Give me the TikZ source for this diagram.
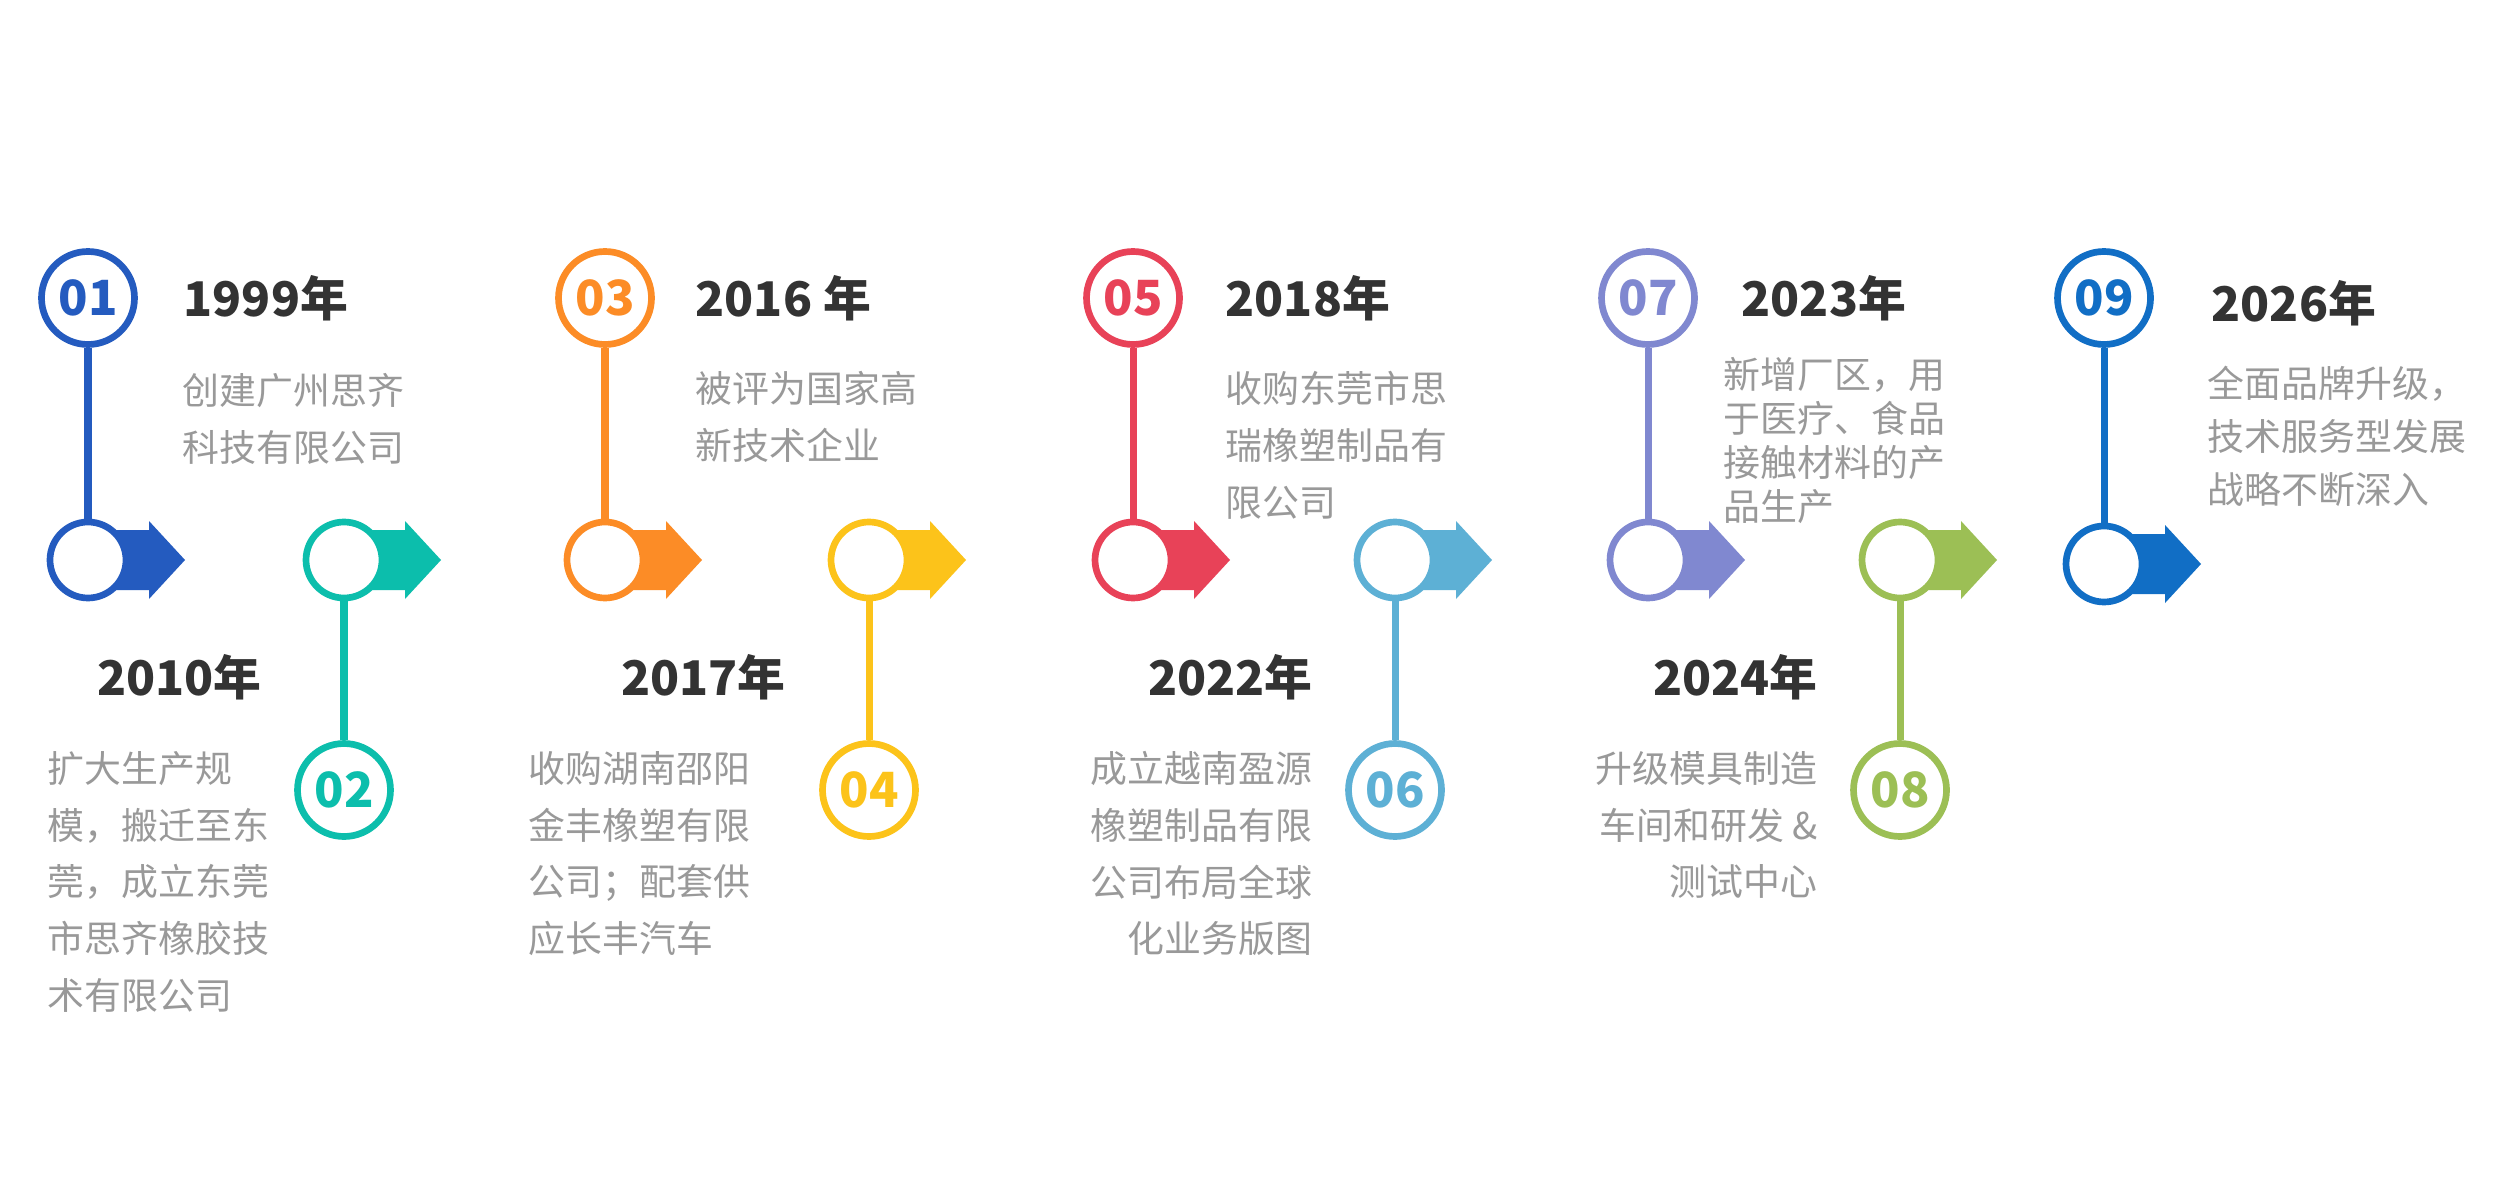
\documentclass[tikz,border=0pt]{standalone}
\usepackage{fontspec}
\setmainfont{Noto Sans CJK SC}
\definecolor{c1}{HTML}{245BBF}
\definecolor{c2}{HTML}{0CBEAC}
\definecolor{c3}{HTML}{FC8C26}
\definecolor{c4}{HTML}{FCC31A}
\definecolor{c5}{HTML}{E84258}
\definecolor{c6}{HTML}{5DB0D5}
\definecolor{c7}{HTML}{8088D0}
\definecolor{c8}{HTML}{9CBF55}
\definecolor{c9}{HTML}{116EC5}
\definecolor{ink}{HTML}{333333}
\definecolor{grey}{HTML}{999999}
% arrow flag behind a dot
\newcommand{\flag}[2]{\fill[#2] (#1) ++(0,-30) -- ++(61,0) -- ++(0,-9) -- ++(36,39) -- ++(-36,39) -- ++(0,-9) -- ++(-61,0) -- cycle;}
\begin{document}
\begin{tikzpicture}[x=0.1mm,y=-0.1mm,
  num/.style={circle,draw=#1,text=#1,fill=white,line width=1.9pt,minimum size=9.3mm,inner sep=0pt,font=\bfseries\fontsize{13.8}{14}\selectfont},
  dot/.style={circle,draw=#1,fill=white,line width=1.9pt,minimum size=7.6mm,inner sep=0pt},
  stem/.style={draw=#1,line width=2pt},
  year/.style={inner sep=0pt,text=ink,font=\bfseries\fontsize{13.6}{15}\selectfont},
  note/.style={inner sep=0pt,text=grey,font=\fontsize{10.5}{16.1}\selectfont}]
\path[fill=white] (0,0) rectangle (2516,1183);

\coordinate (P1) at (88,560);   \coordinate (P2) at (344,560);
\coordinate (P3) at (605,560);  \coordinate (P4) at (869,560);
\coordinate (P5) at (1133,560); \coordinate (P6) at (1395,560);
\coordinate (P7) at (1648,560); \coordinate (P8) at (1900,560);
\coordinate (P9) at (2104,564);

\flag{P1}{c1} \flag{P2}{c2} \flag{P3}{c3} \flag{P4}{c4} \flag{P5}{c5}
\flag{P6}{c6} \flag{P7}{c7} \flag{P8}{c8} \flag{P9}{c9}

\node[dot=c1] (D1) at (P1) {};
\node[dot=c2] (D2) at (P2) {};
\node[dot=c3] (D3) at (P3) {};
\node[dot=c4] (D4) at (P4) {};
\node[dot=c5] (D5) at (P5) {};
\node[dot=c6] (D6) at (P6) {};
\node[dot=c7] (D7) at (P7) {};
\node[dot=c8] (D8) at (P8) {};
\node[dot=c9] (D9) at (P9) {};

\node[num=c1] (N1) at (88,298) {01};
\node[num=c2] (N2) at (344,790) {02};
\node[num=c3] (N3) at (605,298) {03};
\node[num=c4] (N4) at (869,790) {04};
\node[num=c5] (N5) at (1133,298) {05};
\node[num=c6] (N6) at (1395,790) {06};
\node[num=c7] (N7) at (1648,298) {07};
\node[num=c8] (N8) at (1900,790) {08};
\node[num=c9] (N9) at (2104,298) {09};

\path (N1) edge[stem=c1] (D1)
      (D2) edge[stem=c2] (N2)
      (N3) edge[stem=c3] (D3)
      (D4) edge[stem=c4] (N4)
      (N5) edge[stem=c5] (D5)
      (D6) edge[stem=c6] (N6)
      (N7) edge[stem=c7] (D7)
      (D8) edge[stem=c8] (N8)
      (N9) edge[stem=c9] (D9);

\node[year,anchor=west] (Y1) at (183,298) {1999年};
\node[year,anchor=east] (Y2) at (262,677) {2010年};
\node[year,anchor=west] (Y3) at (695,298) {2016 年};
\node[year,anchor=east] (Y4) at (786,677) {2017年};
\node[year,anchor=west] (Y5) at (1225,298) {2018年};
\node[year,anchor=east] (Y6) at (1313,677) {2022年};
\node[year,anchor=west] (Y7) at (1741,298) {2023年};
\node[year,anchor=east] (Y8) at (1818,677) {2024年};
\node[year,anchor=west] (Y9) at (2211,303) {2026年};

\node[note,anchor=north west,align=left] (T1) at (182,373) {创建广州思齐\\科技有限公司};
\node[note,anchor=north west,align=left] (T2) at (47,751) {扩大生产规\\模，搬迁至东\\莞，成立东莞\\市思齐橡胶技\\术有限公司};
\node[note,anchor=north west,align=left] (T3) at (695,371) {被评为国家高\\新技术企业};
\node[note,anchor=north west,align=left] (T4) at (528,751) {收购湖南邵阳\\金丰橡塑有限\\公司；配套供\\应长丰汽车};
\node[note,anchor=north west,align=left] (T5) at (1225,371) {收购东莞市思\\瑞橡塑制品有\\限公司};
\node[note,anchor=north east,align=right] (T6) at (1313,751) {成立越南盈源\\橡塑制品有限\\公司布局全球\\化业务版图};
\node[note,anchor=north west,align=left,font=\fontsize{10.5}{12.5}\selectfont] (T7) at (1723,357) {新增厂区，用\\于医疗、食品\\接触材料的产\\品生产};
\node[note,anchor=north east,align=right] (T8) at (1818,751) {升级模具制造\\车间和研发 \&\\测试中心};
\node[note,anchor=north west,align=left,font=\fontsize{10.5}{15.1}\selectfont] (T9) at (2207,365) {全面品牌升级，\\技术服务型发展\\战略不断深入};
\end{tikzpicture}
\end{document}
